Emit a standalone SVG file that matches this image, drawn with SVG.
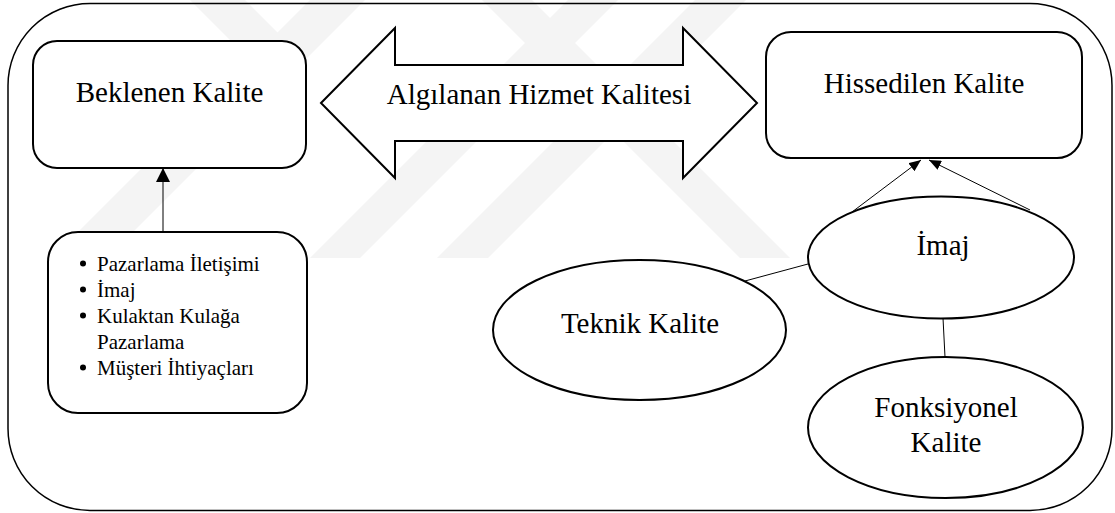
<svg xmlns="http://www.w3.org/2000/svg" width="1115" height="513" viewBox="0 0 1115 513">
  <defs>
    <marker id="head" viewBox="0 0 12 10" refX="12" refY="5" markerWidth="12" markerHeight="10" markerUnits="userSpaceOnUse" orient="auto">
      <path d="M0,0 L12,5 L0,10 z" fill="#000"/>
    </marker>
    <marker id="headBig" viewBox="0 0 14 14" refX="14" refY="7" markerWidth="14" markerHeight="14" markerUnits="userSpaceOnUse" orient="auto">
      <path d="M0,0 L14,7 L0,14 z" fill="#000"/>
    </marker>
  </defs>
  <style>
    .frame { fill: none; stroke: #000; stroke-width: 1.5; }
    .box { fill: #fff; stroke: #000; stroke-width: 2; }
    .oval { fill: #fff; stroke: #000; stroke-width: 2; }
    .link { fill: none; stroke: #000; stroke-width: 1; }
    text { font-family: 'Liberation Serif', Tinos, 'DejaVu Serif', serif; fill: #000; }
    .label { font-size: 29px; text-anchor: middle; }
    .item { font-size: 21px; }
    .mark { fill: #f4f4f4; }
  </style>

  <rect width="1115" height="513" fill="#fff"/>

  <!-- faint background mark -->
  <g id="backdrop">
    <polygon class="mark" points="52,258 107,258 365,0 310,0"/>
    <polygon class="mark" points="190,0 245,0 305,60 250,60"/>
    <polygon class="mark" points="310,258 360,258 618,0 568,0"/>
    <polygon class="mark" points="437,258 488,258 746,0 695,0"/>
    <polygon class="mark" points="482,0 532,0 790,258 740,258"/>
  </g>

  <!-- outer frame -->
  <rect class="frame" x="8" y="3.5" width="1104" height="507" rx="82" ry="82"/>

  <!-- connectors -->
  <g id="connectors">
    <line class="link" x1="163" y1="232" x2="163" y2="168" stroke-width="1.5" marker-end="url(#headBig)"/>
    <line class="link" x1="852" y1="212" x2="921" y2="160" marker-end="url(#head)"/>
    <line class="link" x1="1030" y1="210" x2="929" y2="160" marker-end="url(#head)"/>
    <line class="link" x1="745" y1="281" x2="808" y2="264"/>
    <line class="link" x1="943" y1="318" x2="945" y2="357"/>
  </g>

  <g id="beklenen">
    <rect class="box" x="33" y="41" width="273" height="127" rx="24" ry="24"/>
    <text class="label" x="169.5" y="102" font-family="Liberation Serif, serif">Beklenen Kalite</text>
  </g>

  <g id="algilanan">
    <polygon class="box" points="321,103 395,28 395,65 683,65 683,28 757,103 683,178 683,141 395,141 395,178"/>
    <text class="label" x="539" y="104" font-family="Liberation Serif, serif">Algılanan Hizmet Kalitesi</text>
  </g>

  <g id="hissedilen">
    <rect class="box" x="766" y="32" width="316" height="126" rx="25" ry="25"/>
    <text class="label" x="924" y="93" font-family="Liberation Serif, serif">Hissedilen Kalite</text>
  </g>

  <g id="etkenler" font-family="Liberation Serif, serif">
    <rect class="box" x="48" y="232" width="259" height="181" rx="30" ry="30"/>
    <circle cx="83" cy="263.5" r="3"/>
    <circle cx="83" cy="289.5" r="3"/>
    <circle cx="83" cy="315.5" r="3"/>
    <circle cx="83" cy="367.5" r="3"/>
    <text class="item" x="97" y="270.5">Pazarlama İletişimi</text>
    <text class="item" x="97" y="296.5">İmaj</text>
    <text class="item" x="97" y="322.5">Kulaktan Kulağa</text>
    <text class="item" x="97" y="348.5">Pazarlama</text>
    <text class="item" x="97" y="374.5">Müşteri İhtiyaçları</text>
  </g>

  <g id="imaj">
    <ellipse class="oval" cx="941" cy="257.5" rx="133" ry="61"/>
    <text class="label" x="943" y="255">İmaj</text>
  </g>

  <g id="teknik">
    <ellipse class="oval" cx="639.5" cy="330" rx="146.5" ry="70"/>
    <text class="label" x="640" y="333">Teknik Kalite</text>
  </g>

  <g id="fonksiyonel">
    <ellipse class="oval" cx="945.5" cy="427.5" rx="137.5" ry="70.5"/>
    <text class="label" x="946" y="417">Fonksiyonel</text>
    <text class="label" x="946" y="452">Kalite</text>
  </g>
</svg>
